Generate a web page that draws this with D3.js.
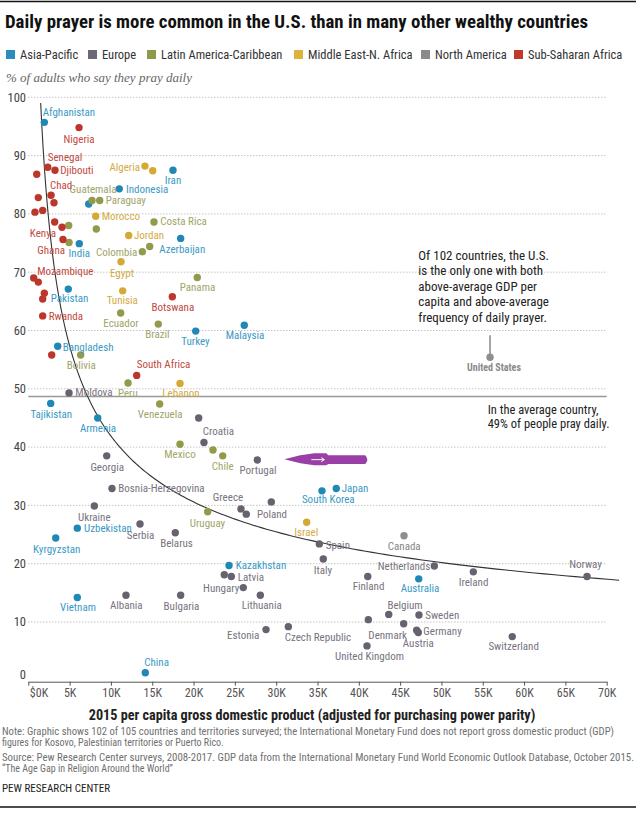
<!DOCTYPE html>
<html><head><meta charset="utf-8">
<script src="https://cdn.jsdelivr.net/npm/d3@7"></script>
<style>body{margin:0;background:#fff}</style>
</head><body><svg id="c" width="640" height="818"></svg>
<script>
// ---------------- DATA ----------------
const regionKeys = ["AP","EU","LA","ME","NA","SSA"];
const regionNames = ["Asia-Pacific","Europe","Latin America-Caribbean","Middle East-N. Africa","North America","Sub-Saharan Africa"];

const countries = [
 // Asia-Pacific
 "Afghanistan","Indonesia","Iran","Philippines","India","Azerbaijan","Pakistan","Turkey","Malaysia","Bangladesh",
 "Tajikistan","Armenia","Uzbekistan","Kyrgyzstan","Vietnam","China","Kazakhstan","South Korea","Japan","Australia",
 // Europe
 "Moldova","Romania","Croatia","Georgia","Portugal","Bosnia-Herzegovina","Ukraine","Serbia","Belarus","Greece",
 "Russia","Poland","Albania","Bulgaria","Spain","Italy","Montenegro","Latvia","Hungary","Lithuania",
 "Finland","Netherlands","Ireland","Norway","Belgium","France","Denmark","Sweden","Germany","Austria",
 "Estonia","Czech Republic","United Kingdom","Switzerland",
 // North America
 "Canada","United States",
 // Latin America-Caribbean
 "Guatemala","Paraguay","Costa Rica","Honduras","El Salvador","Nicaragua","Colombia","Dominican Republic","Panama","Ecuador",
 "Brazil","Bolivia","Peru","Venezuela","Mexico","Argentina","Chile","Uruguay",
 // Middle East-N. Africa
 "Algeria","Iraq","Morocco","Jordan","Egypt","Tunisia","Lebanon","Israel",
 // Sub-Saharan Africa
 "Nigeria","Senegal","Djibouti","Niger","Liberia","Chad","Mali","DR Congo","Guinea-Bissau","Kenya",
 "Cameroon","Ghana","Malawi","Mozambique","Uganda","Tanzania","Botswana","Rwanda","Ethiopia","South Africa"
];
const regionOf = [
 "AP","AP","AP","AP","AP","AP","AP","AP","AP","AP","AP","AP","AP","AP","AP","AP","AP","AP","AP","AP",
 "EU","EU","EU","EU","EU","EU","EU","EU","EU","EU","EU","EU","EU","EU","EU","EU","EU","EU","EU","EU",
 "EU","EU","EU","EU","EU","EU","EU","EU","EU","EU","EU","EU","EU","EU",
 "NA","NA",
 "LA","LA","LA","LA","LA","LA","LA","LA","LA","LA","LA","LA","LA","LA","LA","LA","LA","LA",
 "ME","ME","ME","ME","ME","ME","ME","ME",
 "SSA","SSA","SSA","SSA","SSA","SSA","SSA","SSA","SSA","SSA","SSA","SSA","SSA","SSA","SSA","SSA","SSA","SSA","SSA","SSA"
];
// 2015 GDP per capita, PPP (thousands of $)
const gdp = [
 1.94,11.01,17.51,7.31,6.17,18.44,4.84,20.26,26.14,3.56,2.71,8.40,5.93,3.32,5.93,14.16,24.29,35.54,37.27,47.25,
 4.93,20.62,21.26,9.49,27.71,10.13,7.99,13.52,17.79,25.74,26.38,29.41,11.82,18.44,35.22,35.70,23.72,24.57,26.02,28.08,
 41.08,49.14,53.86,67.62,43.62,41.15,45.43,47.28,47.00,47.20,28.77,31.47,40.99,58.57,
 45.47,55.88,
 7.71,8.64,15.21,4.89,8.23,4.93,13.80,14.69,20.45,11.18,15.73,6.34,12.07,15.90,18.36,22.35,23.53,21.71,
 14.12,15.06,8.16,12.15,11.22,11.42,18.36,33.69,
 6.14,2.35,3.23,1.02,1.21,2.75,3.11,0.81,1.74,3.19,4.08,4.20,0.65,1.21,1.94,1.74,17.43,1.74,2.83,13.12
];
// % of adults who say they pray daily
const prayer = [
 95.7,84.3,87.5,81.7,74.9,75.8,67.1,59.9,60.9,57.3,47.5,45.0,26.1,24.4,14.2,1.3,19.7,32.5,32.9,17.4,
 49.3,45.0,40.8,38.5,37.8,32.9,29.9,26.8,25.3,29.4,28.5,30.6,14.6,14.6,23.4,20.8,18.1,17.8,15.9,14.6,
 17.8,19.6,18.6,17.8,11.3,10.4,9.7,11.2,8.6,8.2,8.7,9.2,5.9,7.5,
 24.8,55.4,
 82.3,82.3,78.6,78.0,77.4,75.1,73.5,74.4,69.1,63.0,61.1,55.8,51.0,47.4,40.5,39.5,38.5,28.9,
 88.2,87.4,79.6,76.3,71.8,66.8,50.9,27.1,
 94.8,88.0,87.5,86.8,82.8,83.2,81.9,80.3,80.6,78.6,77.7,75.6,69.0,68.3,66.4,65.4,65.8,62.5,55.8,52.3
];
const xTicks = [0,5,10,15,20,25,30,35,40,45,50,55,60,65,70];
const xTickLabels = ["$0K","5K","10K","15K","20K","25K","30K","35K","40K","45K","50K","55K","60K","65K","70K"];
const yTicks = [0,10,20,30,40,50,60,70,80,90,100];
const averagePrayer = 48.7;
// power-law trend: prayer = A * gdp^B
const trendA = 119, trendB = -0.4534, trendFrom = 1.5, trendTo = 71.5;

// ---------------- STYLE / LAYOUT ----------------
const N = "'Liberation Sans Narrow','Arial Narrow','Roboto Condensed',sans-serif";
const dotColor = {AP:"#1f88b6",EU:"#676170",LA:"#939a4b",ME:"#d5aa34",NA:"#8e8e8e",SSA:"#bb372b"};
const textColor = {AP:"#3a9ac4",EU:"#78737e",LA:"#a0a56a",ME:"#d2ab45",NA:"#858585",SSA:"#bf4a40"};
const legendColor = {AP:"#2b8cbe",EU:"#6c6876",LA:"#8e9a4b",ME:"#deb23f",NA:"#8a8a8a",SSA:"#c0392b"};
const legendX = [6,88,147,294,421,514];
const labelPos = {
"Afghanistan":["start",-1.6,-10],"Nigeria":["middle",0,11.5],"Senegal":["start",0,-10.6],"Djibouti":["start",5.3,0],
"Chad":["start",-1,-10],"Guatemala":["middle",1,-11],"Paraguay":["start",6,0],"Indonesia":["start",6.7,0],
"Algeria":["end",-5,0.7],"Iran":["middle",0,10],"Morocco":["start",6,0],"Costa Rica":["start",6.3,-0.6],
"Kenya":["end",1.3,10.7],"Jordan":["start",5.3,-0.6],"Azerbaijan":["middle",1.6,10.7],"Ghana":["end",2,10.6],
"India":["middle",0,9.5],"Colombia":["end",-5,0],"Egypt":["middle",1,11.3],"Mozambique":["start",-1,-11],
"Panama":["middle",0.2,9.5],"Pakistan":["middle",1.2,9.3],"Tunisia":["middle",-0.4,9.3],"Botswana":["middle",0.5,10],
"Rwanda":["start",6,0],"Ecuador":["middle",0.3,10.3],"Brazil":["middle",-0.8,10.3],"Turkey":["middle",-0.2,9.7],
"Malaysia":["middle",0.7,9.7],"Bangladesh":["start",5,1],"Bolivia":["middle",0.6,10.3],"South Africa":["start",0,-11],
"Peru":["middle",-0.2,9.7],"Lebanon":["middle",1,10],"Moldova":["start",6.3,-1],"Tajikistan":["middle",0.6,10.7],
"Venezuela":["middle",0.5,10],"Armenia":["middle",0.3,10.3],"Croatia":["middle",14.5,-11.3],"Mexico":["middle",0,10.2],
"Chile":["middle",0,10],"Georgia":["middle",0.5,11],"Portugal":["middle",0.7,10.3],"Bosnia-Herzegovina":["start",6.3,0],
"Greece":["middle",-13,-11.4],"Poland":["middle",0.7,12],"South Korea":["middle",6.3,8.6],"Japan":["start",5.4,0],
"Ukraine":["middle",0,10.7],"Uzbekistan":["start",6.7,0],"Serbia":["middle",0.5,10.7],"Belarus":["middle",1.2,10],
"Kyrgyzstan":["middle",1,11.3],"Uruguay":["middle",-0.2,11.6],"Israel":["middle",-0.4,10],"Spain":["start",6.4,1],
"Canada":["middle",0.2,10],"Kazakhstan":["start",6.7,-0.5],"Italy":["middle",-0.3,11],"Netherlands":["end",-4,0],
"Latvia":["start",6.4,0.5],"Hungary":["end",-4,0.6],"Finland":["middle",0.8,9.7],"Australia":["middle",1.3,9.6],
"Ireland":["middle",0.2,10.6],"Norway":["middle",-1.5,-12.6],"Lithuania":["middle",1.4,9.7],"Vietnam":["middle",0.7,9.3],
"Albania":["middle",0.3,10],"Bulgaria":["middle",0.8,10.7],"Belgium":["middle",16.3,-9.4],"Sweden":["start",6.3,0],
"Denmark":["middle",-16,11],"Germany":["start",6.6,0.7],"Austria":["middle",0,10.6],"Switzerland":["middle",1.4,9.3],
"Estonia":["end",-6.7,5.6],"Czech Republic":["start",-3.6,10],"United Kingdom":["middle",2.5,10.3],"China":["start",-1,-10.7]
};

// ---------------- DRAW ----------------
const svg = d3.select("#c");
const x = d3.scaleLinear().domain([0,70]).range([28.3,606.7]);
const y = d3.scaleLinear().domain([0,100]).range([680.3,97.3]);

svg.append("line").attr("x1",0).attr("x2",636).attr("y1",1.5).attr("y2",1.5).attr("stroke","#111").attr("stroke-width",1.5);
svg.append("text").attr("x",5).attr("y",28).attr("font-family",N).attr("font-weight","bold").attr("font-size",18)
  .attr("textLength",583).attr("lengthAdjust","spacingAndGlyphs")
  .attr("fill","#111").text("Daily prayer is more common in the U.S. than in many other wealthy countries");

// legend
const lg = svg.append("g");
regionKeys.forEach((k,i)=>{
  lg.append("rect").attr("x",legendX[i]).attr("y",50).attr("width",9).attr("height",9).attr("fill",legendColor[k]);
  lg.append("text").attr("x",legendX[i]+14).attr("y",58.5).attr("font-family",N).attr("font-size",12.5).attr("fill","#333").text(regionNames[i]);
});
svg.append("text").attr("x",6).attr("y",82).attr("font-family","'Liberation Serif','DejaVu Serif',serif").attr("font-style","italic")
  .attr("font-size",13).attr("fill","#666").text("% of adults who say they pray daily");

// grid
svg.append("g").selectAll("line").data(yTicks.filter(d=>d>0)).join("line")
  .attr("x1",x(0)).attr("x2",x(70)).attr("y1",d=>y(d)).attr("y2",d=>y(d))
  .attr("stroke","#aaa").attr("stroke-dasharray","1,2").attr("stroke-width",1);
svg.append("g").selectAll("text").data(yTicks).join("text")
  .attr("x",26).attr("y",d=>(d===0?y(0)-6:y(d))).attr("dy","0.35em").attr("text-anchor","end")
  .attr("font-family",N).attr("font-size",12.5).attr("fill","#444").text(d=>d);

// x axis
const xa = svg.append("g").attr("transform","translate(0,681.7)")
  .call(d3.axisBottom(x).tickValues(xTicks).tickFormat((d,i)=>xTickLabels[i]).tickSize(4).tickSizeOuter(0));
xa.select(".domain").attr("stroke","#555");
xa.selectAll(".tick line").attr("stroke","#555");
xa.selectAll(".tick text").attr("font-family",N).attr("font-size",12).attr("fill","#555");
xa.select(".tick text").attr("text-anchor","start").attr("x",1);

svg.append("text").attr("x",312).attr("y",720).attr("text-anchor","middle").attr("font-family",N).attr("font-weight","bold")
  .attr("font-size",14.2).attr("fill","#222").text("2015 per capita gross domestic product (adjusted for purchasing power parity)");

// average line
svg.append("line").attr("x1",x(0)).attr("x2",x(70)).attr("y1",y(averagePrayer)).attr("y2",y(averagePrayer))
  .attr("stroke","#999").attr("stroke-width",1.5);

// trend curve
const tx = d3.range(0,201).map(i=>trendFrom*Math.pow(trendTo/trendFrom,i/200));
svg.append("path").datum(tx).attr("fill","none").attr("stroke","#333").attr("stroke-width",1.1)
  .attr("d",d3.line().x(d=>x(d)).y(d=>y(trendA*Math.pow(d,trendB))));

// data
const data = countries.map((c,i)=>({name:c,region:regionOf[i],gdp:gdp[i],prayer:prayer[i]}));
const us = data.find(d=>d.name==="United States");
svg.append("line").attr("x1",x(us.gdp)).attr("x2",x(us.gdp)).attr("y1",y(59.2)).attr("y2",y(us.prayer))
  .attr("stroke","#888").attr("stroke-width",1.5);

svg.append("g").selectAll("circle").data(data).join("circle")
  .attr("cx",d=>x(d.gdp)).attr("cy",d=>y(d.prayer)).attr("r",3.7).attr("fill",d=>dotColor[d.region]);

svg.append("g").selectAll("text").data(data.filter(d=>labelPos[d.name])).join("text")
  .attr("x",d=>x(d.gdp)+labelPos[d.name][1]).attr("y",d=>y(d.prayer)+labelPos[d.name][2]).attr("dy","0.35em")
  .attr("text-anchor",d=>labelPos[d.name][0]).attr("font-family",N).attr("font-size",11)
  .attr("fill",d=>textColor[d.region]).text(d=>d.name);

svg.append("text").attr("x",x(us.gdp)+4).attr("y",y(us.prayer)+10).attr("dy","0.35em").attr("text-anchor","middle")
  .attr("font-family",N).attr("font-weight","bold").attr("font-size",10).attr("fill","#8a8a8a").text("United States");

// annotations
const ann1 = ["Of 102 countries, the U.S.","is the only one with both","above-average GDP per","capita and above-average","frequency of daily prayer."];
svg.append("g").selectAll("text").data(ann1).join("text").attr("x",418.3).attr("y",(d,i)=>255+i*15.5).attr("dy","0.35em")
  .attr("font-family",N).attr("font-size",13).attr("fill","#222").text(d=>d);
const ann2 = ["In the average country,","49% of people pray daily."];
svg.append("g").selectAll("text").data(ann2).join("text").attr("x",487.7).attr("y",(d,i)=>410+i*14).attr("dy","0.35em")
  .attr("font-family",N).attr("font-size",12.5).attr("fill","#222").text(d=>d);

// purple hand-drawn arrow
const ag = svg.append("g").attr("transform",`translate(${x(30.98)},${y(37.9)})`);
ag.append("path").attr("fill","#9a3fa6")
  .attr("d","M0,0 L16,-4 L30,-6 L42,-6 L44,-4 L81,-4 Q85,0.3 81,4.7 L44,4.7 L42,6 L30,6 L16,3.8 Z");
ag.append("path").attr("fill","none").attr("stroke","#fff").attr("stroke-width",1)
  .attr("d","M27,0.3 L40,0.3 M37,-1.8 L40,0.3 L37,2.4");

// notes
const notes = [
 ["Note: Graphic shows 102 of 105 countries and territories surveyed; the International Monetary Fund does not report gross domestic product (GDP)",734.5,612],
 ["figures for Kosovo, Palestinian territories or Puerto Rico.",745.5,0],
 ["Source: Pew Research Center surveys, 2008-2017. GDP data from the International Monetary Fund World Economic Outlook Database, October 2015.",760.5,632],
 ["\u201CThe Age Gap in Religion Around the World\u201D",771.5,0]
];
const nt = svg.append("g").selectAll("text").data(notes).join("text").attr("x",2).attr("y",d=>d[1])
  .attr("font-family",N).attr("font-size",10).attr("fill","#707070").text(d=>d[0]);
nt.filter(d=>d[2]>0).attr("textLength",d=>d[2]).attr("lengthAdjust","spacingAndGlyphs");
svg.append("text").attr("x",2).attr("y",792).attr("font-family",N).attr("font-size",11).attr("fill","#222").text("PEW RESEARCH CENTER");
svg.append("line").attr("x1",0).attr("x2",636).attr("y1",807).attr("y2",807).attr("stroke","#111").attr("stroke-width",1.5);
</script></body></html>
